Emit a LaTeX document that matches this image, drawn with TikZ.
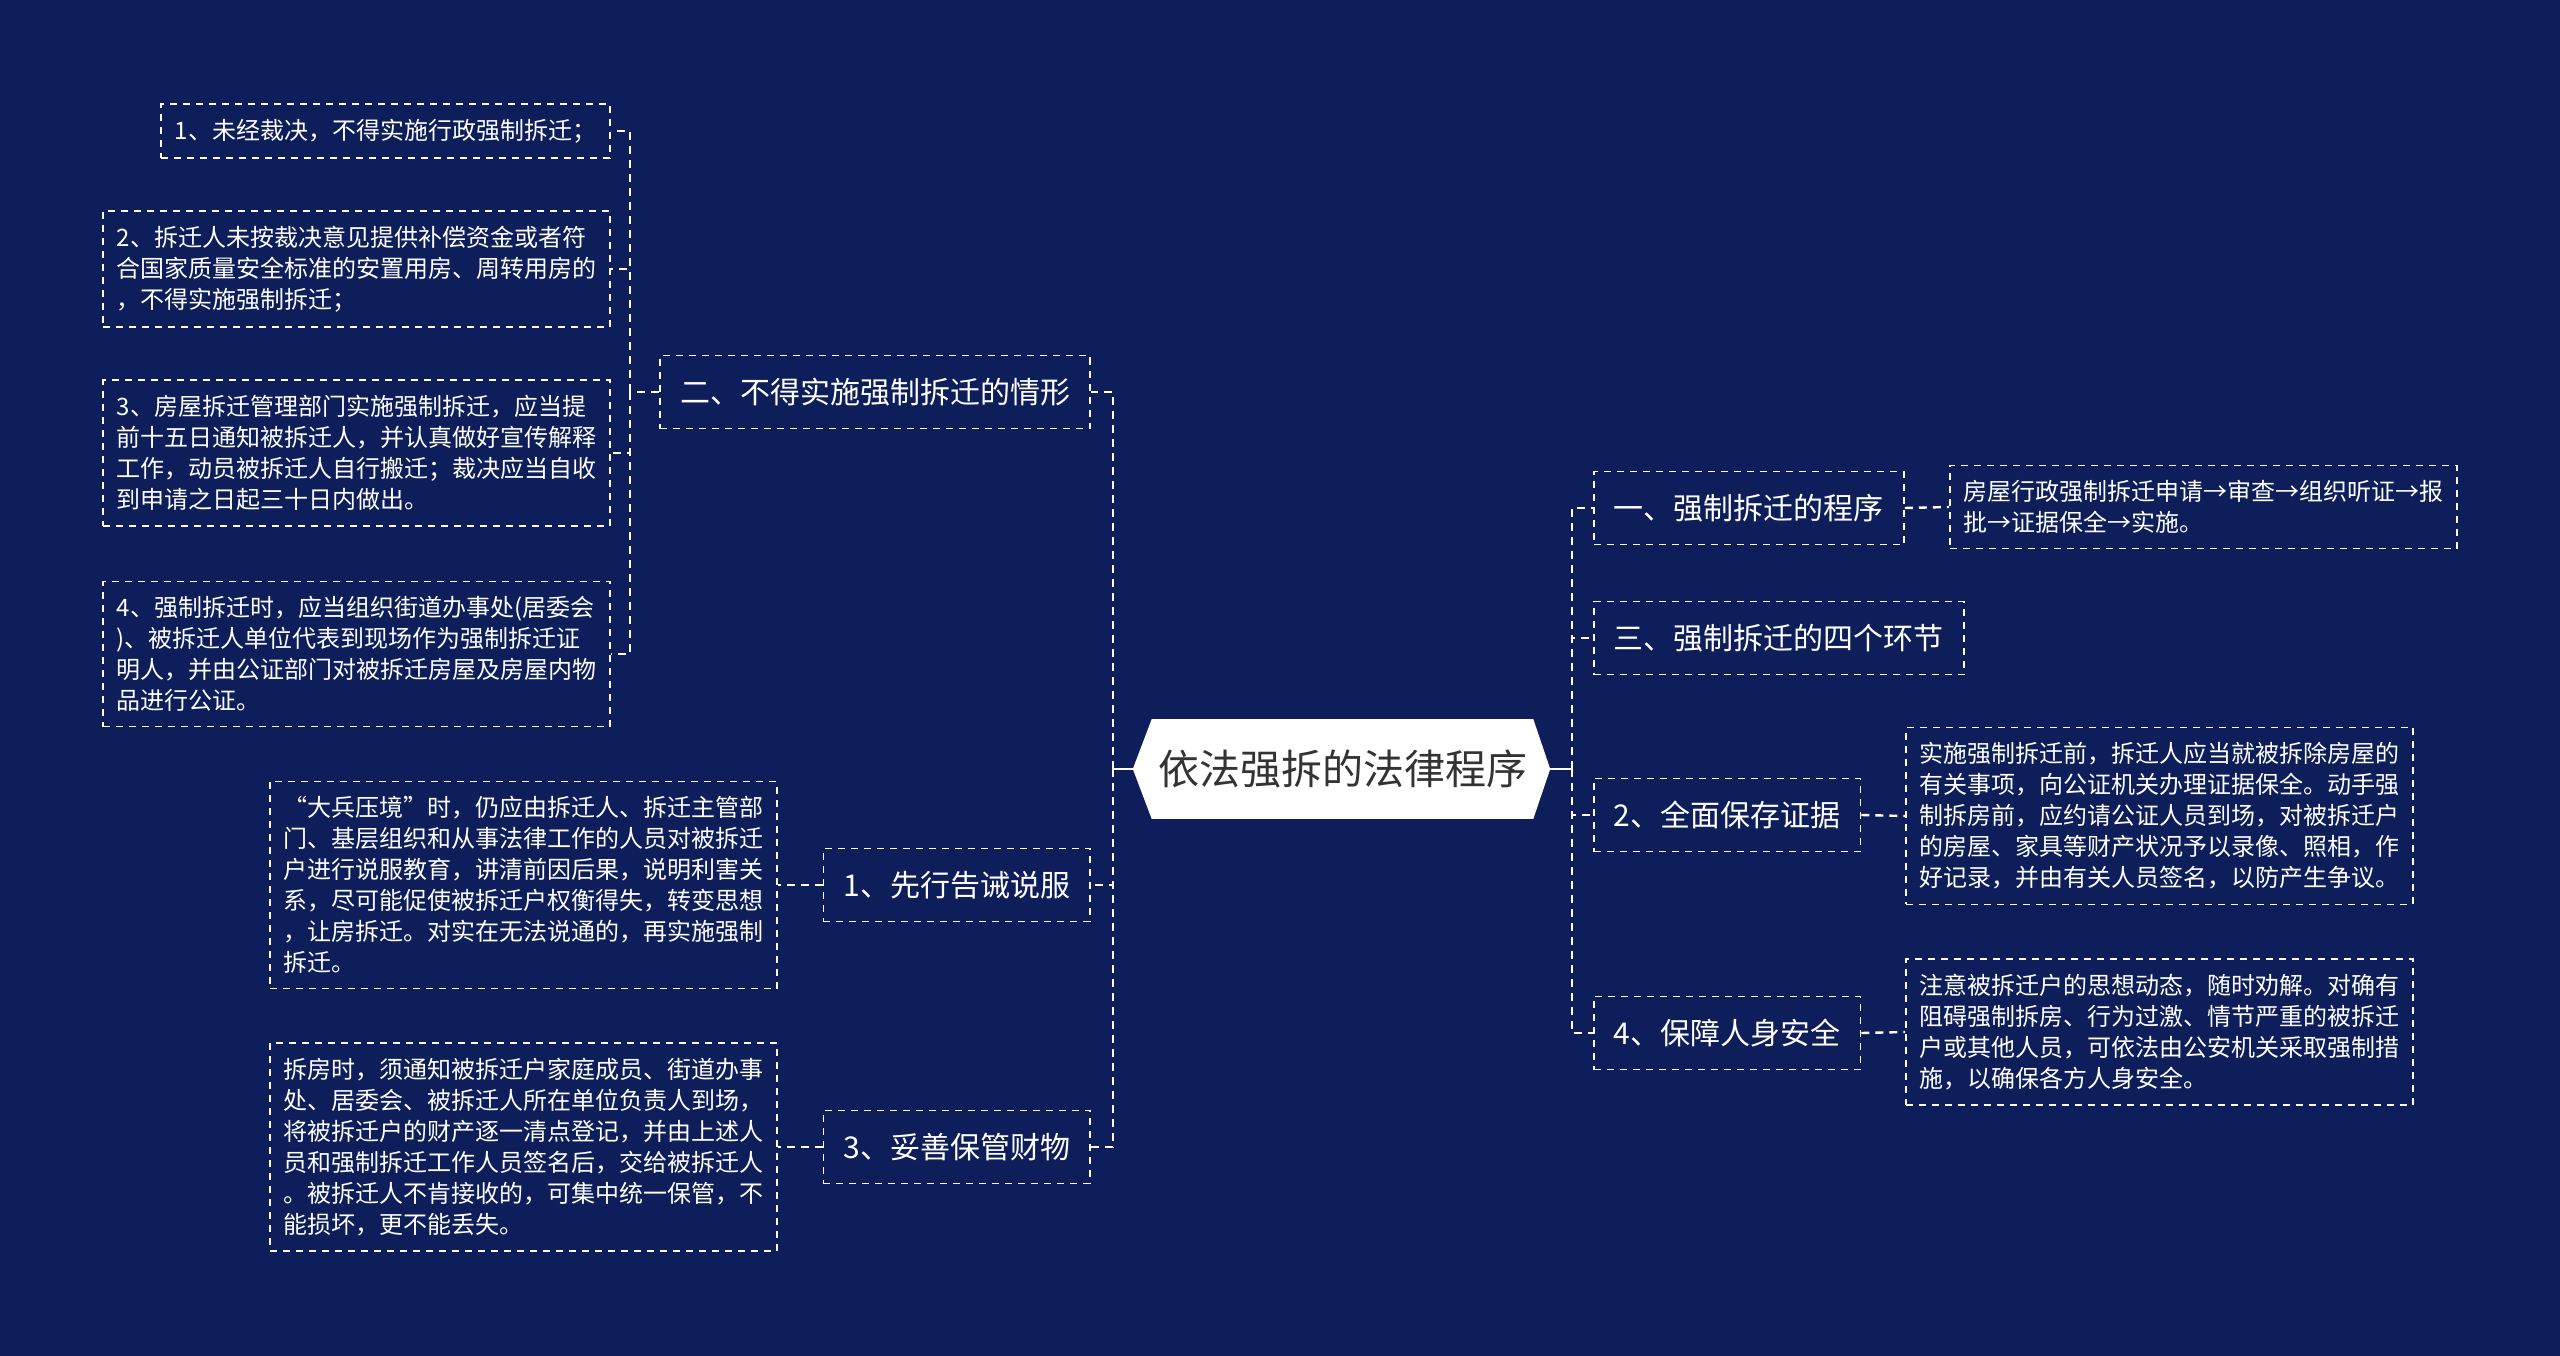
\documentclass[tikz,border=0pt]{standalone}
\usepackage{fontspec}
\setmainfont{Noto Sans CJK SC}
\definecolor{navy}{RGB}{13,30,90}
\definecolor{rootgray}{RGB}{51,51,51}

\begin{document}
\begin{tikzpicture}[x=1pt,y=-1pt,
		topic/.style={draw=white,dash pattern=on 7pt off 6pt,line width=1.8pt,text=white,
			font=\fontsize{30}{36}\selectfont,inner xsep=20pt,minimum height=73pt},
		detail/.style={draw=white,dash pattern=on 7pt off 6pt,line width=1.6pt,text=white,
			font=\fontsize{24}{31}\selectfont,align=left,text width=480pt,inner xsep=13.5pt,inner ysep=15pt},
		link/.style={white,dash pattern=on 8pt off 6pt,line width=2.4pt}]
			\fill[navy] (0,0) rectangle (2560,1356);
			\useasboundingbox (0,0) rectangle (2560,1356);
			
			\node (root) [fill=white,minimum width=381pt,minimum height=100pt,inner sep=0pt,
				text=rootgray,font=\fontsize{41}{48}\selectfont] at (1342.5,769) {依法强拆的法律程序};
			\fill[white] (root.north east) -- ([xshift=17pt]root.east) -- (root.south east) -- cycle;
			\fill[white] (root.north west) -- ([xshift=-19pt]root.west) -- (root.south west) -- cycle;
			
			\coordinate (lt) at (1113,769);
			\coordinate (rt) at (1572,769);
			\draw[white,line width=2.4pt] ([xshift=-19pt]root.west) -- (lt);
			\draw[white,line width=2.4pt] ([xshift=17pt]root.east) -- (rt);
			
			\node[topic,anchor=east] (s2) at (1091,392) {二、不得实施强制拆迁的情形};
			\node[topic,anchor=east] (s1) at (1091,885) {1、先行告诫说服};
			\node[topic,anchor=east] (s3) at (1091,1147) {3、妥善保管财物};
			
			\node[topic,anchor=west] (p1) at (1593,508) {一、强制拆迁的程序};
			\node[topic,anchor=west] (p3) at (1593,638) {三、强制拆迁的四个环节};
			\node[topic,anchor=west] (p2) at (1593,815) {2、全面保存证据};
			\node[topic,anchor=west] (p4) at (1593,1033) {4、保障人身安全};
			
			\node[detail,anchor=east,text width=422pt] (a1) at (611,131) {1、未经裁决，不得实施行政强制拆迁；};
			\node[detail,anchor=east] (a2) at (611,269) {2、拆迁人未按裁决意见提供补偿资金或者符\\合国家质量安全标准的安置用房、周转用房的\\，不得实施强制拆迁；};
			\node[detail,anchor=east] (a3) at (611,453) {3、房屋拆迁管理部门实施强制拆迁，应当提\\前十五日通知被拆迁人，并认真做好宣传解释\\工作，动员被拆迁人自行搬迁；裁决应当自收\\到申请之日起三十日内做出。};
			\node[detail,anchor=east] (a4) at (611,654) {4、强制拆迁时，应当组织街道办事处(居委会\\)、被拆迁人单位代表到现场作为强制拆迁证\\明人，并由公证部门对被拆迁房屋及房屋内物\\品进行公证。};
			
			\node[detail,anchor=east] (d1) at (778,885) {“大兵压境”时，仍应由拆迁人、拆迁主管部\\门、基层组织和从事法律工作的人员对被拆迁\\户进行说服教育，讲清前因后果，说明利害关\\系，尽可能促使被拆迁户权衡得失，转变思想\\，让房拆迁。对实在无法说通的，再实施强制\\拆迁。};
			\node[detail,anchor=east] (d3) at (778,1147) {拆房时，须通知被拆迁户家庭成员、街道办事\\处、居委会、被拆迁人所在单位负责人到场，\\将被拆迁户的财产逐一清点登记，并由上述人\\员和强制拆迁工作人员签名后，交给被拆迁人\\。被拆迁人不肯接收的，可集中统一保管，不\\能损坏，更不能丢失。};
			
			\node[detail,anchor=west] (b1) at (1949,507) {房屋行政强制拆迁申请→审查→组织听证→报\\批→证据保全→实施。};
			\node[detail,anchor=west] (b2) at (1905,816) {实施强制拆迁前，拆迁人应当就被拆除房屋的\\有关事项，向公证机关办理证据保全。动手强\\制拆房前，应约请公证人员到场，对被拆迁户\\的房屋、家具等财产状况予以录像、照相，作\\好记录，并由有关人员签名，以防产生争议。};
			\node[detail,anchor=west] (b4) at (1905,1032) {注意被拆迁户的思想动态，随时劝解。对确有\\阻碍强制拆房、行为过激、情节严重的被拆迁\\户或其他人员，可依法由公安机关采取强制措\\施，以确保各方人身安全。};
			
			\foreach \n in {s2,s1,s3}
				\draw[link] (lt) |- (\n.east);
			\foreach \n in {p1,p3,p2,p4}
				\draw[link] (rt) |- (\n.west);
			
			\coordinate (st) at (630,392);
			\draw[link] (s2.west) -- (st);
			\foreach \n in {a1,a2,a3,a4}
				\draw[link] (st) |- (\n.east);
			
			\draw[link] (s1.west) -- (d1.east);
			\draw[link] (s3.west) -- (d3.east);
			\draw[link] (p1.east) -- (b1.west);
			\draw[link] (p2.east) -- (b2.west);
			\draw[link] (p4.east) -- (b4.west);
		\end{tikzpicture}
\end{document}
